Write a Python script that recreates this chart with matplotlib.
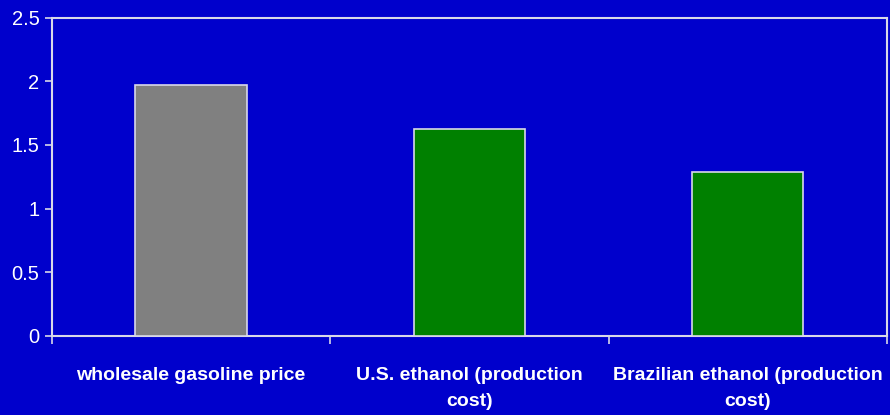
import matplotlib
matplotlib.use("Agg")
import matplotlib.pyplot as plt
import numpy as np

categories = ["wholesale gasoline price", "U.S. ethanol (production\ncost)",
              "Brazilian ethanol (production\ncost)"]
values = [1.97, 1.625, 1.29]
bar_colors = ["#808080", "#008000", "#008000"]
yticks = [0, 0.5, 1, 1.5, 2, 2.5]
ytick_labels = ["0", "0.5", "1", "1.5", "2", "2.5"]

bg = "#0000CC"
line_col = "#D8D8E8"

plt.rcParams["font.family"] = ["Liberation Sans", "DejaVu Sans"]

fig = plt.figure(figsize=(8.9, 4.15), dpi=100, facecolor=bg)
ax = fig.add_axes([0.0584, 0.1904, 0.9382, 0.7674], facecolor=bg)

x = np.arange(len(categories))
ax.bar(x, values, width=0.4, color=bar_colors, edgecolor=line_col, linewidth=1.2, zorder=3)

ax.set_xlim(-0.5, len(categories) - 0.5)
ax.set_ylim(0, 2.5)

for s in ax.spines.values():
    s.set_color(line_col)
    s.set_linewidth(1.5)

ax.set_yticks(yticks)
ax.set_yticklabels(ytick_labels, fontsize=14.5, color="white")
ax.tick_params(axis="y", direction="out", length=5, width=1.2, color=line_col, pad=4)

ax.set_xticks(x)
ax.set_xticklabels(categories, fontsize=14, fontweight="bold", color="white", linespacing=1.7)
ax.tick_params(axis="x", which="major", length=0, pad=22)
ax.set_xticks(np.arange(-0.5, len(categories)), minor=True)
ax.tick_params(axis="x", which="minor", direction="out", length=6, width=1.2, color=line_col)

fig.savefig("out.png", dpi=100, facecolor=bg)
